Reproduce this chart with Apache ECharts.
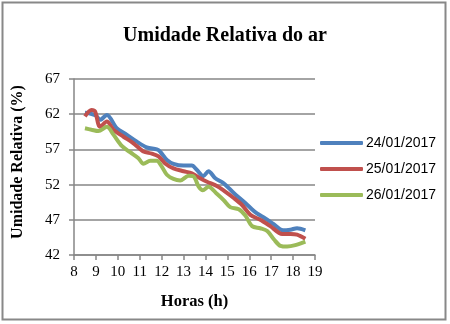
<!DOCTYPE html>
<html>
<head>
<meta charset="utf-8">
<script src="https://cdn.jsdelivr.net/npm/echarts@6/dist/echarts.min.js"></script>
<style>
  html, body { margin: 0; padding: 0; background: #fff; }
  #chart { width: 450px; height: 324px; }
</style>
</head>
<body>
<div id="chart"></div>
<script>
// Relative humidity over the day, three dates
const seriesNames = ['24/01/2017', '25/01/2017', '26/01/2017'];

const hours24 = [8.5, 8.73, 9.0, 9.19, 9.5, 9.95, 10.4, 10.87, 11.32, 11.78, 11.93, 12.24, 12.54, 13.0, 13.38, 13.6, 13.9, 14.14, 14.45, 14.83, 15.29, 15.74, 16.05, 16.35, 16.73, 17.1, 17.54, 17.88, 18.18, 18.56];
const humidity24 = [62.2, 62.1, 61.8, 61.2, 61.9, 60.0, 59.1, 58.1, 57.3, 57.0, 56.7, 55.5, 54.95, 54.7, 54.7, 54.1, 53.2, 53.9, 52.9, 52.2, 50.8, 49.6, 48.7, 47.9, 47.2, 46.4, 45.5, 45.6, 45.8, 45.5];

const hours25 = [8.5, 8.8, 8.96, 9.19, 9.5, 9.8, 10.26, 10.7, 11.17, 11.55, 11.86, 12.16, 12.54, 13.0, 13.38, 13.76, 14.07, 14.52, 14.9, 15.29, 15.67, 16.05, 16.5, 16.96, 17.5, 17.88, 18.18, 18.56];
const humidity25 = [61.7, 62.6, 62.4, 60.2, 60.95, 59.8, 58.8, 57.9, 56.7, 56.4, 56.0, 55.0, 54.3, 53.9, 53.6, 52.9, 52.4, 51.8, 51.0, 50.1, 49.1, 47.7, 47.0, 46.1, 45.0, 45.0, 44.9, 44.3];

const hours26 = [8.5, 8.8, 9.11, 9.5, 9.8, 10.18, 10.56, 10.94, 11.17, 11.48, 11.78, 12.0, 12.24, 12.54, 12.85, 13.23, 13.46, 13.69, 13.88, 14.14, 14.52, 14.83, 15.13, 15.52, 15.82, 16.13, 16.5, 16.82, 17.13, 17.42, 17.73, 18.1, 18.56];
const humidity26 = [60.0, 59.8, 59.6, 60.2, 59.1, 57.5, 56.6, 55.75, 54.95, 55.4, 55.4, 54.6, 53.4, 52.8, 52.6, 53.25, 53.15, 51.7, 51.2, 51.7, 50.7, 49.8, 48.8, 48.5, 47.6, 46.1, 45.8, 45.4, 44.2, 43.3, 43.2, 43.4, 43.9];

const hourTicks = { min: 8, max: 19, step: 1 };
const humidityTicks = { min: 42, max: 67, step: 5 };

const colors = ['#4F81BD', '#C0504D', '#9BBB59'];
const axisGray = '#868686';
const serif = '"Liberation Serif", "Times New Roman", serif';

function pairs(xs, ys) {
  return xs.map((x, i) => [x, ys[i]]);
}

const chart = echarts.init(document.getElementById('chart'));

chart.setOption({
  animation: false,
  color: colors,
  title: {
    text: 'Umidade Relativa do ar',
    left: 'center',
    top: 21,
    textStyle: { fontFamily: serif, fontSize: 20, fontWeight: 'bold', color: '#000' }
  },
  grid: { left: 74, right: 135, top: 79, bottom: 69, containLabel: false },
  legend: {
    orient: 'vertical',
    left: 315,
    top: 131,
    itemGap: 12,
    itemWidth: 43,
    itemHeight: 4,
    icon: 'roundRect',
    textStyle: { fontFamily: '"Liberation Sans", Arial, sans-serif', fontSize: 14, color: '#000', padding: [0, 0, 0, -2] },
    data: seriesNames
  },
  xAxis: {
    type: 'value',
    min: hourTicks.min,
    max: hourTicks.max,
    interval: hourTicks.step,
    name: 'Horas (h)',
    nameLocation: 'middle',
    nameGap: 38,
    nameTextStyle: { fontFamily: serif, fontSize: 16.5, fontWeight: 'bold', color: '#000' },
    axisLine: { show: true, lineStyle: { color: axisGray, width: 1.5 } },
    axisTick: { show: true, length: 5, inside: false, lineStyle: { color: axisGray, width: 1.5 } },
    axisLabel: { fontFamily: serif, fontSize: 15, color: '#000', margin: 10 },
    splitLine: { show: false }
  },
  yAxis: {
    type: 'value',
    min: humidityTicks.min,
    max: humidityTicks.max,
    interval: humidityTicks.step,
    name: 'Umidade Relativa (%)',
    nameLocation: 'middle',
    nameGap: 48,
    nameTextStyle: { fontFamily: serif, fontSize: 16, fontWeight: 'bold', color: '#000', padding: [0, 0, 0, 10] },
    axisLine: { show: true, lineStyle: { color: axisGray, width: 1.5 } },
    axisTick: { show: true, length: 5, inside: false, lineStyle: { color: axisGray, width: 1.5 } },
    axisLabel: { fontFamily: serif, fontSize: 15, color: '#000', margin: 14 },
    splitLine: { show: true, lineStyle: { color: axisGray, width: 1.5 } }
  },
  graphic: [{
    type: 'rect',
    shape: { x: 2.5, y: 2.5, width: 443, height: 317 },
    style: { fill: 'none', stroke: '#888', lineWidth: 2 },
    silent: true,
    z: 100
  }],
  series: [
    { name: seriesNames[0], type: 'line', data: pairs(hours24, humidity24), smooth: 0.3, symbol: 'none', lineStyle: { width: 4, color: colors[0] }, z: 3 },
    { name: seriesNames[1], type: 'line', data: pairs(hours25, humidity25), smooth: 0.3, symbol: 'none', lineStyle: { width: 4, color: colors[1] }, z: 4 },
    { name: seriesNames[2], type: 'line', data: pairs(hours26, humidity26), smooth: 0.3, symbol: 'none', lineStyle: { width: 4, color: colors[2] }, z: 5 }
  ]
});
</script>
</body>
</html>
